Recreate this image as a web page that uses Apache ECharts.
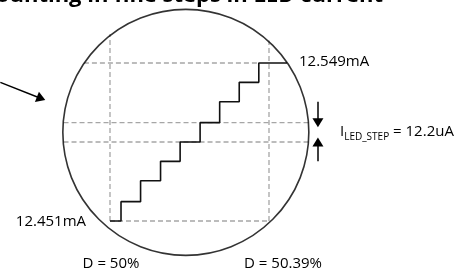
<!DOCTYPE html>
<html>
<head>
<meta charset="utf-8">
<script src="https://cdn.jsdelivr.net/npm/echarts@6/dist/echarts.min.js"></script>
<style>
html, body { margin: 0; padding: 0; background: #fff; }
#main { width: 457px; height: 272px; }
</style>
</head>
<body>
<div id="main"></div>
<script>
var stepDuty    = [50, 50.027, 50.075, 50.124, 50.172, 50.221, 50.269, 50.317, 50.365, 50.434];
var stepCurrent = [12.451, 12.463, 12.476, 12.488, 12.500, 12.512, 12.525, 12.537, 12.549, 12.549];

// dashed guide lines: start and end points
var guideFrom = [[50, 12.451], [50.39, 12.451], [49.936, 12.549], [49.886, 12.512], [49.886, 12.500], [50, 12.451]];
var guideTo   = [[50, 12.567], [50.39, 12.563], [50.365, 12.549], [50.487, 12.512], [50.487, 12.500], [50.39, 12.451]];

// zoom circle centre
var lensCenter = [[50.186, 12.506]];

// annotation arrows
var arrowFrom = [[49.731, 12.537], [50.510, 12.525], [50.510, 12.488]];
var arrowTo   = [[49.831, 12.527], [50.510, 12.512], [50.510, 12.500]];

// D = 50% .. 50.39% spans 159px, 12.451 .. 12.549mA spans 158px;
// the grid fills the whole canvas so nothing gets clipped
var dPerPx = 0.39 / 159;
var iPerPx = 0.098 / 158;
var xMin = 50 - 110 * dPerPx, xMax = 50 + 347 * dPerPx;
var yMin = 12.451 - 51 * iPerPx, yMax = 12.451 + 221 * iPerPx;

var font = 'Open Sans';
var myChart = echarts.init(document.getElementById('main'));

var series = [];

guideFrom.forEach(function (p, i) {
    series.push({
        type: 'line',
        data: [p, guideTo[i]],
        symbol: 'none',
        silent: true,
        lineStyle: { color: '#a6a6a6', width: 1.3, type: [5, 3] },
        z: 1
    });
});

series.push({
    type: 'line',
    step: 'end',
    data: stepDuty.map(function (d, i) { return [d, stepCurrent[i]]; }),
    symbol: 'none',
    silent: true,
    lineStyle: { color: '#111', width: 1.6 },
    z: 3,
    markLine: {
        silent: true,
        animation: false,
        symbol: ['none', 'triangle'],
        symbolSize: [11, 9],
        label: { show: false },
        lineStyle: { color: '#000', width: 1.5, type: 'solid' },
        data: arrowFrom.map(function (p, i) {
            return [{ coord: p }, { coord: arrowTo[i] }];
        })
    }
});

series.push({
    type: 'scatter',
    data: lensCenter,
    symbol: 'circle',
    symbolSize: 246,
    silent: true,
    itemStyle: { color: 'rgba(0,0,0,0)', borderColor: '#000', borderWidth: 1.6 },
    z: 4
});

var option = {
    animation: false,
    grid: { left: 0, top: 0, right: 0, bottom: 0 },
    xAxis: { type: 'value', min: xMin, max: xMax, show: false },
    yAxis: { type: 'value', min: yMin, max: yMax, show: false },
    series: series,
    graphic: [
        { type: 'text', x: 383, y: 7, style: { text: 'Counting in fine steps in LED current', fontFamily: font, fontWeight: 'bold', fontSize: 22, fill: '#000', align: 'right', verticalAlign: 'bottom' } },
        { type: 'text', x: 299, y: 62, style: { text: '12.549mA', fontFamily: font, fontSize: 15, fill: '#000', align: 'left', verticalAlign: 'middle' } },
        { type: 'text', x: 86, y: 222, style: { text: '12.451mA', fontFamily: font, fontSize: 15, fill: '#000', align: 'right', verticalAlign: 'middle' } },
        { type: 'text', x: 111, y: 264, style: { text: 'D = 50%', fontFamily: font, fontSize: 15, fill: '#000', align: 'center', verticalAlign: 'middle' } },
        { type: 'text', x: 283, y: 264, style: { text: 'D = 50.39%', fontFamily: font, fontSize: 15, fill: '#000', align: 'center', verticalAlign: 'middle' } },
        { type: 'text', x: 340, y: 132, style: {
            text: '{a|I}{s|LED_STEP}{a| = 12.2uA}',
            align: 'left', verticalAlign: 'middle',
            rich: {
                a: { fontFamily: font, fontSize: 15, lineHeight: 20, fill: '#000' },
                s: { fontFamily: font, fontSize: 10, lineHeight: 11, fill: '#000', verticalAlign: 'bottom' }
            }
        } }
    ]
};

myChart.setOption(option);
</script>
</body>
</html>
